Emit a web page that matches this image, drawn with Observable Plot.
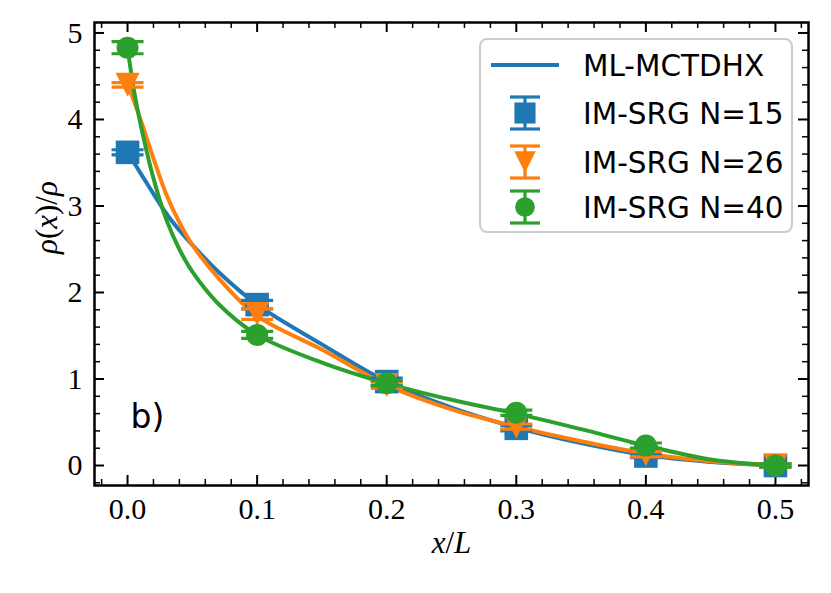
<!DOCTYPE html>
<html><head><meta charset="utf-8">
<script src="https://cdn.jsdelivr.net/npm/d3@7"></script>
<script src="https://cdn.jsdelivr.net/npm/@observablehq/plot@0.6"></script>
<style>
body{margin:0;background:#fff;}
#wrap{position:relative;width:831px;height:593px;}
#legend{position:absolute;left:479px;top:38px;}
</style></head><body><div id="wrap"></div>
<script>
// ---- data ----
const xs = [0, 0.1, 0.2, 0.3, 0.4, 0.5];
const n15 = [3.62, 1.86, 0.97, 0.43, 0.11, 0.0];
const n15err = [0.03, 0.05, 0.04, 0.03, 0.02, 0.02];
const n26 = [4.40, 1.75, 0.93, 0.45, 0.13, 0.0];
const n26err = [0.025, 0.06, 0.04, 0.03, 0.03, 0.02];
const n40 = [4.83, 1.51, 0.95, 0.61, 0.23, 0.0];
const n40err = [0.07, 0.04, 0.03, 0.03, 0.03, 0.02];

const curveX = [0, 0.005, 0.01, 0.02, 0.03, 0.04, 0.05, 0.07, 0.1, 0.15, 0.2, 0.25, 0.3, 0.35, 0.4, 0.45, 0.5];
const mctdhx = [3.62, 3.50, 3.38, 3.14, 2.91, 2.72, 2.55, 2.24, 1.86, 1.40, 0.97, 0.67, 0.44, 0.26, 0.12, 0.04, 0.0];
const fit26  = [4.42, 4.21, 4.00, 3.55, 3.13, 2.81, 2.55, 2.17, 1.73, 1.34, 0.93, 0.65, 0.45, 0.28, 0.14, 0.05, 0.0];
const fit40  = [4.83, 4.33, 3.95, 3.32, 2.84, 2.50, 2.24, 1.87, 1.51, 1.19, 0.95, 0.76, 0.60, 0.42, 0.23, 0.07, 0.0];

const labels = ["ML-MCTDHX", "IM-SRG N=15", "IM-SRG N=26", "IM-SRG N=40"];
const colors = ["#1f77b4", "#ff7f0e", "#2ca02c"];

const xMajor = [0, 0.1, 0.2, 0.3, 0.4, 0.5];
const yMajor = [0, 1, 2, 3, 4, 5];
const xMinor = d3.range(-1, 27).map(i => +(i * 0.02).toFixed(2)).filter(v => Math.abs(v * 10 - Math.round(v * 10)) > 1e-6);
const yMinor = d3.range(-1, 26).map(i => +(i * 0.2).toFixed(1)).filter(v => Math.abs(v - Math.round(v)) > 1e-6);

// ---- layout ----
const W = 831, H = 593, mL = 94, mR = 23, mT = 22, mB = 108;
const fw = W - mL - mR, fh = H - mT - mB;
const SERIF = "'Liberation Serif', 'DejaVu Serif', serif";
const SANS = "'DejaVu Sans', sans-serif";

const sq = {draw(c, s){const r = Math.sqrt(s/Math.PI); c.rect(-r, -r, 2*r, 2*r);}};
const tri = {draw(c, s){const r = Math.sqrt(s/Math.PI); c.moveTo(0, r); c.lineTo(-r, -r); c.lineTo(r, -r); c.closePath();}};
const circ = {draw(c, s){const r = Math.sqrt(s/Math.PI); c.moveTo(r, 0); c.arc(0, 0, r, 0, 2*Math.PI);}};
const cap = {draw(c, s){const r = Math.sqrt(s/Math.PI); c.moveTo(-r, 0); c.lineTo(r, 0);}};
const symR = [11.8, 12, 11];
const syms = [sq, tri, circ];

const series = [[n15, n15err], [n26, n26err], [n40, n40err]].map(([v, e], k) =>
  xs.map((x, i) => ({x, y: v[i], e: e[i], k})));
const curves = [mctdhx, fit26, fit40].map((v, k) => curveX.map((x, i) => ({x, y: v[i], k})));

const marks = [];
const tickStyle = {stroke: "black"};
marks.push(Plot.tickX(xMajor, {x: d => d, insetTop: fh - 10, strokeWidth: 2, ...tickStyle}));
marks.push(Plot.tickX(xMajor, {x: d => d, insetBottom: fh - 10, strokeWidth: 2, ...tickStyle}));
marks.push(Plot.tickX(xMinor, {x: d => d, insetTop: fh - 6, strokeWidth: 1.5, ...tickStyle}));
marks.push(Plot.tickX(xMinor, {x: d => d, insetBottom: fh - 6, strokeWidth: 1.5, ...tickStyle}));
marks.push(Plot.tickY(yMajor, {y: d => d, insetRight: fw - 10, strokeWidth: 2, ...tickStyle}));
marks.push(Plot.tickY(yMajor, {y: d => d, insetLeft: fw - 10, strokeWidth: 2, ...tickStyle}));
marks.push(Plot.tickY(yMinor, {y: d => d, insetRight: fw - 6, strokeWidth: 1.5, ...tickStyle}));
marks.push(Plot.tickY(yMinor, {y: d => d, insetLeft: fw - 6, strokeWidth: 1.5, ...tickStyle}));
curves.forEach((c, k) => marks.push(Plot.line(c, {x: "x", y: "y", stroke: colors[k], strokeWidth: 4, curve: "catmull-rom"})));
series.forEach((s, k) => {
  marks.push(Plot.ruleX(s, {x: "x", y1: d => d.y - d.e, y2: d => d.y + d.e, stroke: colors[k], strokeWidth: 3.2}));
  marks.push(Plot.dot(s, {x: "x", y: d => d.y - d.e, symbol: cap, r: 16, stroke: colors[k], strokeWidth: 3.2, fill: "none"}));
  marks.push(Plot.dot(s, {x: "x", y: d => d.y + d.e, symbol: cap, r: 16, stroke: colors[k], strokeWidth: 3.2, fill: "none"}));
  marks.push(Plot.dot(s, {x: "x", y: "y", symbol: syms[k], r: symR[k], fill: colors[k], stroke: "none"}));
});
marks.push(Plot.frame({stroke: "black", strokeWidth: 2.5}));
marks.push(Plot.axisX(xMajor, {tickSize: 0, tickPadding: 12, tickFormat: d => d.toFixed(1), fontSize: 30, label: null}));
marks.push(Plot.axisY(yMajor, {tickSize: 0, tickPadding: 12, tickFormat: d => String(d), fontSize: 30, label: null}));
marks.push(Plot.text(["x/L"], {text: d => d, frameAnchor: "bottom", dy: 67, fontSize: 31}));
marks.push(Plot.text(["ρ(x)/ρ"], {text: d => d, frameAnchor: "left", dx: -47, rotate: -90, fontSize: 31}));
marks.push(Plot.text(["b)"], {text: d => d, frameAnchor: "bottom-left", dx: 36, dy: -58, textAnchor: "start", fontSize: 33}));

const chart = Plot.plot({
  width: W, height: H,
  marginLeft: mL, marginRight: mR, marginTop: mT, marginBottom: mB,
  x: {domain: [-0.0255, 0.5255]},
  y: {domain: [-0.231, 5.121]},
  style: {background: "white", color: "black", fontFamily: SERIF},
  marks
});
const wrap = document.getElementById("wrap");
wrap.appendChild(chart);

// fonts and math-style labels
const texts = d3.select(chart).selectAll("text");
texts.attr("font-family", SERIF).style("font-family", SERIF);
function mathify(content, parts) {
  texts.filter(function(){ return this.textContent === content; }).each(function(){
    const t = d3.select(this);
    t.text(null);
    parts.forEach(([s, it]) => t.append("tspan").style("font-style", it ? "italic" : "normal").text(s));
  });
}
texts.filter(function(){ return this.textContent === "b)"; }).attr("font-family", SANS).style("font-family", SANS);
mathify("x/L", [["x", 1], ["/", 0], ["L", 1]]);
mathify("ρ(x)/ρ", [["ρ", 1], ["(", 0], ["x", 1], [")/", 0], ["ρ", 1]]);

// legend
const LW = 314, LH = 195;
const lg = d3.select(wrap).append("svg").attr("id", "legend").attr("width", LW).attr("height", LH);
lg.append("rect").attr("x", 1).attr("y", 1).attr("width", LW - 2).attr("height", LH - 2).attr("rx", 7)
  .attr("fill", "white").attr("fill-opacity", 0.8).attr("stroke", "#cccccc").attr("stroke-width", 2);
const rowY = [27, 75, 124, 169];
const tx = 104, mx = 46;
lg.append("line").attr("x1", 12).attr("x2", 80).attr("y1", rowY[0]).attr("y2", rowY[0]).attr("stroke", colors[0]).attr("stroke-width", 4);
[0, 1, 2].forEach(k => {
  const y = rowY[k + 1], g = lg.append("g").attr("transform", `translate(${mx},${y})`);
  g.append("line").attr("y1", -16).attr("y2", 16).attr("stroke", colors[k]).attr("stroke-width", 3.2);
  [-16, 16].forEach(dy => g.append("line").attr("x1", -15).attr("x2", 15).attr("y1", dy).attr("y2", dy).attr("stroke", colors[k]).attr("stroke-width", 3.2));
  g.append("path").attr("d", d3.symbol(syms[k], Math.PI * symR[k] * symR[k] * 0.8)()).attr("fill", colors[k]);
});
labels.forEach((l, i) => lg.append("text").attr("x", tx).attr("y", rowY[i]).attr("dy", "0.36em")
  .attr("font-family", SANS).attr("font-size", 29.5).attr("fill", "black").text(l));
</script></body></html>
